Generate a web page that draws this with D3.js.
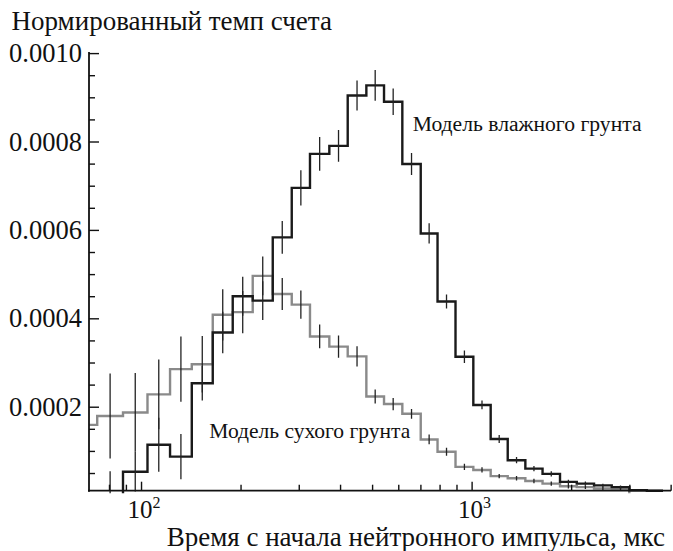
<!DOCTYPE html>
<html>
<head>
<meta charset="utf-8">
<script src="https://cdn.jsdelivr.net/npm/d3@7"></script>
<style>
  html, body { margin: 0; padding: 0; background: #fff; }
  text { font-family: "Liberation Serif", "DejaVu Serif", "Tinos", "Times New Roman", serif; fill: #111; }
</style>
</head>
<body>
<script>
// ---- Data ----
// bin edges, microseconds (log-spaced histogram bins)
const binEdges = [62, 73.7, 88.2, 104.6, 122.4, 142.4, 164.8, 189.4, 217.7, 250.3, 285.7,
  324.4, 371.2, 421.9, 480.4, 543.3, 617.2, 701.6, 788.7, 893.9, 1012, 1142, 1286, 1454,
  1639, 1851, 2080, 2346, 2654, 2999, 3390, 3793];
// wet soil model (black)
const wetValues = [0, 0, 0.000053, 0.000114, 0.000087, 0.000253, 0.000368, 0.000450, 0.000440,
  0.000583, 0.000695, 0.000772, 0.000790, 0.000904, 0.000927, 0.000890, 0.000749, 0.000592,
  0.000438, 0.000313, 0.000204, 0.000127, 0.000079, 0.000060, 0.000048, 0.000030, 0.000026,
  0.000022, 0.000018, 0.000011, 0.000010];
const wetErrors = [0, 0.000054, 0.000045, 0.000061, 0.000051, 0.000039, 0.000047, 0.000044, 0.000044,
  0.000037, 0.000040, 0.000038, 0.000036, 0.000034, 0.000035, 0.000030, 0.000025, 0.000023,
  0.000016, 0.000014, 0.000010, 0.000009, 0.000007, 0.000006, 0.000006, 0.000005, 0.000005,
  0.000004, 0.000004, 0, 0];
// dry soil model (gray)
const dryValues = [0.000159, 0.000179, 0.000187, 0.000228, 0.000285, 0.000296, 0.000408, 0.000414,
  0.000496, 0.000455, 0.000431, 0.000359, 0.000336, 0.000314, 0.000223, 0.000206, 0.000184,
  0.000126, 0.000098, 0.000064, 0.000057, 0.000043, 0.000038, 0.000032, 0.000026, 0.000020,
  0.000018, 0.000015, 0.000014];
const dryErrors = [0.000100, 0.000096, 0.000089, 0.000079, 0.000074, 0.000064, 0.000058, 0.000048,
  0.000044, 0.000036, 0.000032, 0.000027, 0.000025, 0.000023, 0.000016, 0.000014, 0.000011,
  0.000011, 0.000009, 0.000007, 0.000006, 0.000005, 0.000005, 0.000005, 0.000005, 0.000005,
  0.000004, 0.000004, 0.000004];
const yTickValues = [0.0002, 0.0004, 0.0006, 0.0008, 0.0010];
const xMajorTicks = [100, 1000];
const xMajorLabels = [["10", "2"], ["10", "3"]];
const xMinorTicks = [80, 90, 200, 300, 400, 500, 600, 700, 800, 900, 2000, 3000, 4000];
const yTitle = "Нормированный темп счета";
const xTitle = "Время с начала нейтронного импульса, мкс";
const wetLabel = "Модель влажного грунта";
const dryLabel = "Модель сухого грунта";

// ---- Layout ----
const W = 673, H = 551;
const mLeft = 89, mRight = 671, mTop = 53.1, mBottom = 490.7;
const FONT = '"Liberation Serif", "DejaVu Serif", "Tinos", "Times New Roman", serif';

const x = d3.scaleLog().domain([69.6, 4010]).range([mLeft, mRight]);
const y = d3.scaleLinear().domain([0.00001, 0.0010]).range([mBottom, mTop]);

const svg = d3.select("body").append("svg").attr("width", W).attr("height", H);

// fit text to a target width (font availability differs)
function fitText(sel, targetW, maxSize) {
  const node = sel.node();
  const w = node.getComputedTextLength();
  const fs = parseFloat(sel.attr("font-size"));
  if (w > 0) sel.attr("font-size", Math.min(maxSize, fs * targetW / w));
}

svg.append("defs").append("clipPath").attr("id", "plotclip")
  .append("rect").attr("x", mLeft).attr("y", mTop - 15).attr("width", mRight - mLeft + 2).attr("height", mBottom - mTop + 17.5);

const plot = svg.append("g").attr("clip-path", "url(#plotclip)");

function stepPoints(values) {
  const pts = values.map((v, i) => [binEdges[i], v]);
  pts.push([binEdges[values.length], values[values.length - 1]]);
  return pts;
}
const line = d3.line().x(d => x(d[0])).y(d => y(d[1])).curve(d3.curveStepAfter);

// dry (gray)
const dryPts = stepPoints(dryValues);
dryPts.push([binEdges[dryValues.length], 0]);
plot.append("path").attr("d", line(dryPts))
  .attr("fill", "none").attr("stroke", "#8a8a8a").attr("stroke-width", 2.4);

// wet (black)
plot.append("path").attr("d", line(stepPoints(wetValues)))
  .attr("fill", "none").attr("stroke", "#1a1a1a").attr("stroke-width", 2.4);

// error bars
function errBars(values, errs) {
  values.forEach((v, i) => {
    if (!errs[i]) return;
    const cx = x(Math.sqrt(binEdges[i] * binEdges[i + 1]));
    plot.append("line")
      .attr("x1", cx).attr("x2", cx)
      .attr("y1", y(v - errs[i])).attr("y2", y(v + errs[i]))
      .attr("stroke", "#222").attr("stroke-width", 1.3);
  });
}
errBars(dryValues, dryErrors);
errBars(wetValues, wetErrors);

// ---- Axes ----
const yMinor = d3.range(1, 20).map(k => k * 0.00005).filter(v => !yTickValues.some(t => Math.abs(t - v) < 1e-9));
const gy = svg.append("g").attr("transform", `translate(${mLeft},0)`);
gy.call(d3.axisLeft(y).tickValues(yTickValues).tickSize(-10).tickPadding(7).tickFormat(d3.format(".4f")));
gy.select(".domain").remove();
gy.selectAll(".tick line").attr("stroke", "#111").attr("stroke-width", 1.4);
gy.selectAll(".tick text").attr("font-size", 26).attr("font-family", FONT).attr("fill", "#111");
gy.selectAll(".tick text").each(function () { fitText(d3.select(this), 73, 27); });
const gyMinor = svg.append("g").attr("transform", `translate(${mLeft},0)`);
gyMinor.call(d3.axisLeft(y).tickValues(yMinor).tickSize(-6).tickFormat(""));
gyMinor.select(".domain").remove();
gyMinor.selectAll(".tick line").attr("stroke", "#111").attr("stroke-width", 1.4);

const gx = svg.append("g").attr("transform", `translate(0,${mBottom})`);
gx.call(d3.axisBottom(x).tickValues(xMajorTicks).tickSize(-9).tickFormat(""));
gx.select(".domain").remove();
gx.selectAll(".tick line").attr("stroke", "#111").attr("stroke-width", 1.4);
const gxMinor = svg.append("g").attr("transform", `translate(0,${mBottom})`);
gxMinor.call(d3.axisBottom(x).tickValues(xMinorTicks).tickSize(-6).tickFormat(""));
gxMinor.select(".domain").remove();
gxMinor.selectAll(".tick line").attr("stroke", "#111").attr("stroke-width", 1.4);

// axis lines
svg.append("line").attr("x1", mLeft).attr("x2", mLeft).attr("y1", mTop - 1).attr("y2", mBottom + 1)
  .attr("stroke", "#111").attr("stroke-width", 1.8);
svg.append("line").attr("x1", mLeft - 1).attr("x2", mRight).attr("y1", mBottom).attr("y2", mBottom)
  .attr("stroke", "#111").attr("stroke-width", 1.8);

// x tick labels with superscripts
xMajorTicks.forEach((t, i) => {
  const tx = svg.append("text").attr("x", x(t) + 3).attr("y", 518)
    .attr("text-anchor", "middle").attr("font-size", 25);
  tx.append("tspan").text(xMajorLabels[i][0]);
  tx.append("tspan").attr("font-size", 16).attr("dy", -10.5).text(xMajorLabels[i][1]);
  fitText(tx, 33, 26);
});

// titles
fitText(svg.append("text").attr("x", 11.5).attr("y", 30).attr("font-size", 24).text(yTitle), 321, 27);
fitText(svg.append("text").attr("x", 665).attr("y", 546).attr("text-anchor", "end").attr("font-size", 24).text(xTitle), 505, 27);
fitText(svg.append("text").attr("x", 412.7).attr("y", 131).attr("font-size", 21.5).text(wetLabel), 229, 24);
fitText(svg.append("text").attr("x", 209.3).attr("y", 437.7).attr("font-size", 21.5).text(dryLabel), 201, 24);
</script>
</body>
</html>
